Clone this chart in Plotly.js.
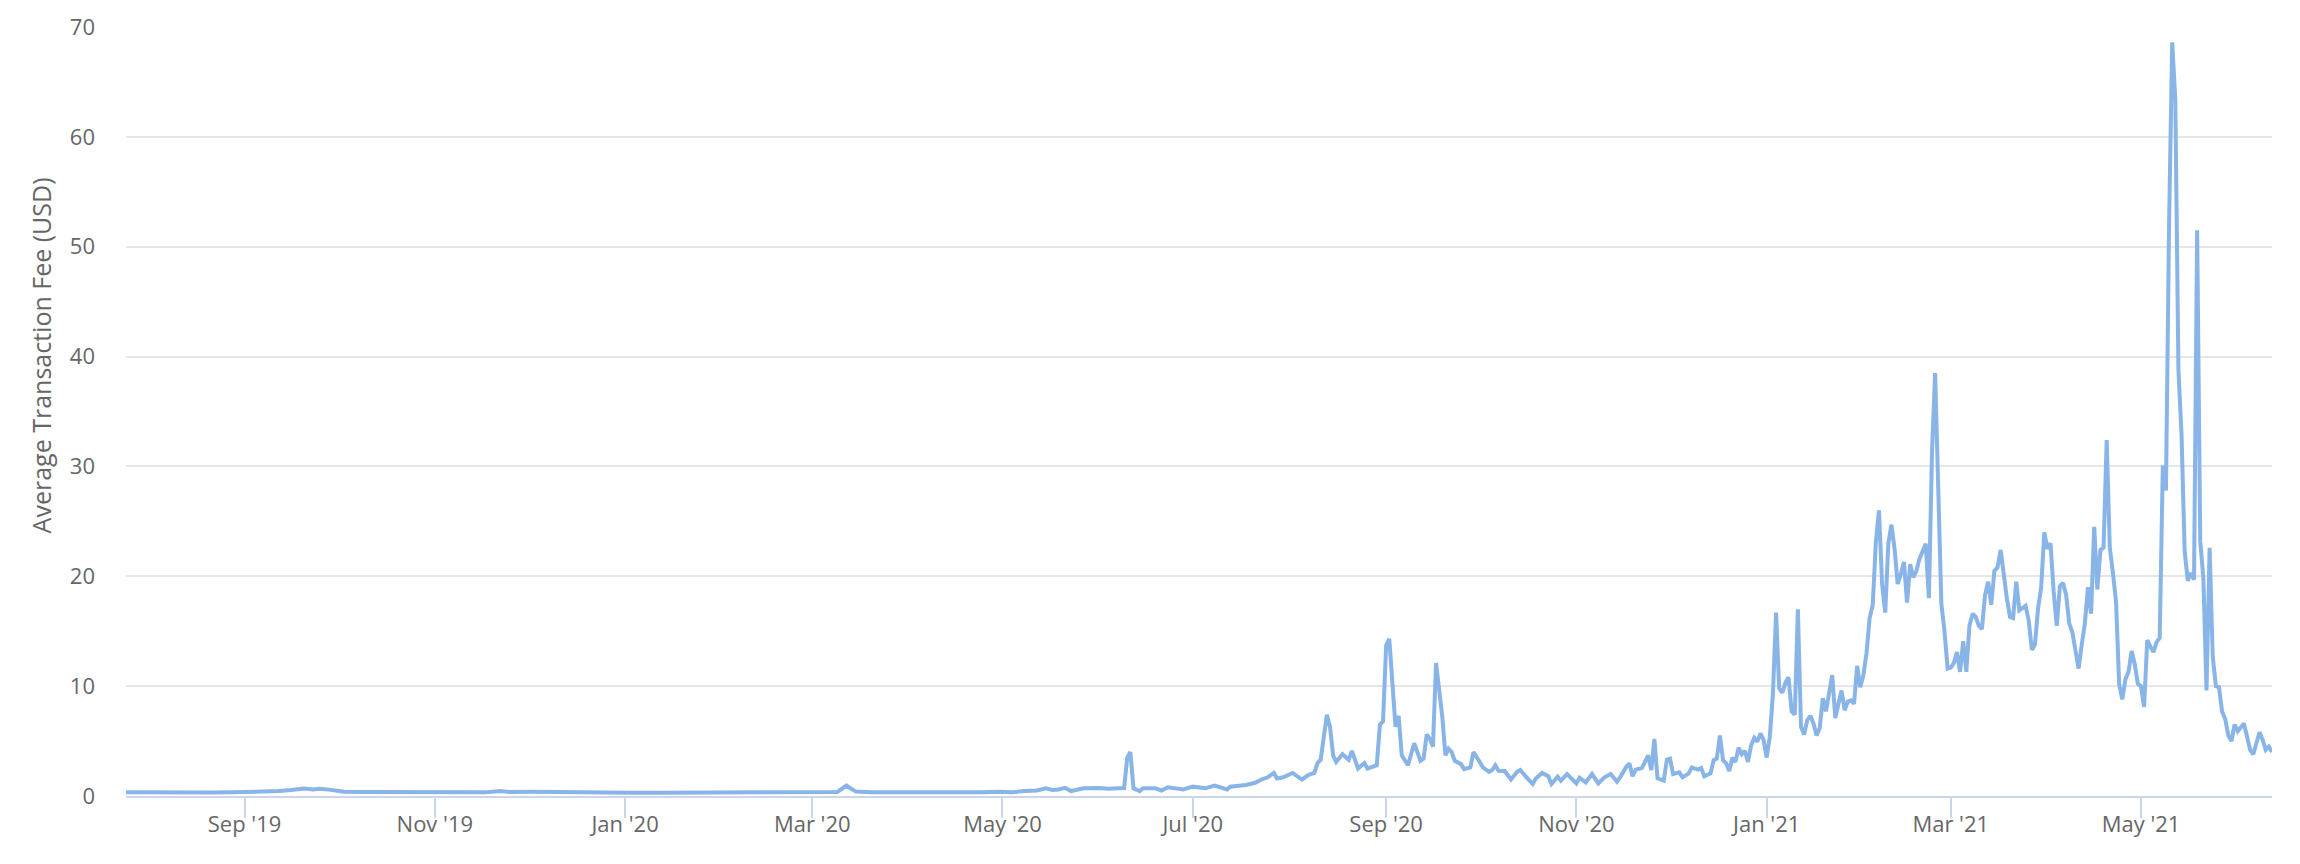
<!DOCTYPE html>
<html>
<head>
<meta charset="utf-8">
<script src="https://cdn.plot.ly/plotly-3.0.1.min.js"></script>
<style>
  body { margin: 0; background: #ffffff; }
  #graphDiv { width: 2300px; height: 864px; }
</style>
</head>
<body>
<div id="graphDiv"></div>
<script>
// html tag
const graphDiv = document.getElementById('graphDiv');

// data **************************************************************
const feeDates = [
  '2019-07-25','2019-07-30','2019-08-04','2019-08-10','2019-08-16','2019-08-22','2019-08-28',
  '2019-09-03','2019-09-08','2019-09-12','2019-09-16','2019-09-20','2019-09-23','2019-09-25',
  '2019-09-28','2019-10-01','2019-10-03','2019-10-10','2019-10-18','2019-10-26','2019-11-03',
  '2019-11-10','2019-11-17','2019-11-22','2019-11-25','2019-12-02','2019-12-10','2019-12-18',
  '2019-12-26','2020-01-03','2020-01-12','2020-01-20','2020-01-28','2020-02-04','2020-02-10',
  '2020-02-16','2020-02-22','2020-02-28','2020-03-05','2020-03-09','2020-03-11','2020-03-12',
  '2020-03-13','2020-03-15','2020-03-20','2020-03-27','2020-04-03','2020-04-10','2020-04-17',
  '2020-04-24','2020-04-30','2020-05-04','2020-05-08','2020-05-12','2020-05-15','2020-05-17',
  '2020-05-19','2020-05-21','2020-05-23','2020-05-27','2020-06-01','2020-06-04','2020-06-07',
  '2020-06-09','2020-06-10','2020-06-11','2020-06-12','2020-06-14','2020-06-15','2020-06-19',
  '2020-06-21','2020-06-23','2020-06-28','2020-07-01','2020-07-05','2020-07-08','2020-07-12',
  '2020-07-13','2020-07-18','2020-07-21','2020-07-23','2020-07-25','2020-07-27','2020-07-28',
  '2020-07-30','2020-08-02','2020-08-05','2020-08-07','2020-08-09','2020-08-10','2020-08-11',
  '2020-08-13','2020-08-14','2020-08-15','2020-08-16','2020-08-18','2020-08-20','2020-08-21',
  '2020-08-23','2020-08-25','2020-08-26','2020-08-29','2020-08-30','2020-08-31','2020-09-01',
  '2020-09-02','2020-09-04','2020-09-05','2020-09-06','2020-09-08','2020-09-10','2020-09-12',
  '2020-09-13','2020-09-14','2020-09-15','2020-09-16','2020-09-17','2020-09-19','2020-09-20',
  '2020-09-21','2020-09-22','2020-09-23','2020-09-25','2020-09-26','2020-09-28','2020-09-29',
  '2020-10-01','2020-10-02','2020-10-04','2020-10-05','2020-10-06','2020-10-07','2020-10-09',
  '2020-10-11','2020-10-13','2020-10-14','2020-10-16','2020-10-18','2020-10-19','2020-10-21',
  '2020-10-23','2020-10-24','2020-10-26','2020-10-27','2020-10-29','2020-11-01','2020-11-02',
  '2020-11-04','2020-11-06','2020-11-08','2020-11-10','2020-11-12','2020-11-14','2020-11-15',
  '2020-11-17','2020-11-18','2020-11-19','2020-11-20','2020-11-22','2020-11-24','2020-11-25',
  '2020-11-26','2020-11-27','2020-11-29','2020-11-30','2020-12-01','2020-12-02','2020-12-04',
  '2020-12-05','2020-12-07','2020-12-08','2020-12-10','2020-12-11','2020-12-12','2020-12-14',
  '2020-12-15','2020-12-16','2020-12-17','2020-12-18','2020-12-19','2020-12-20','2020-12-21',
  '2020-12-22','2020-12-23','2020-12-24','2020-12-25','2020-12-26','2020-12-27','2020-12-28',
  '2020-12-29','2020-12-30','2020-12-31','2021-01-01','2021-01-02','2021-01-03','2021-01-04',
  '2021-01-05','2021-01-06','2021-01-07','2021-01-08','2021-01-09','2021-01-10','2021-01-11',
  '2021-01-12','2021-01-13','2021-01-14','2021-01-15','2021-01-16','2021-01-17','2021-01-18',
  '2021-01-19','2021-01-20','2021-01-22','2021-01-23','2021-01-24','2021-01-25','2021-01-26',
  '2021-01-27','2021-01-28','2021-01-29','2021-01-30','2021-01-31','2021-02-01','2021-02-02',
  '2021-02-03','2021-02-04','2021-02-05','2021-02-06','2021-02-07','2021-02-08','2021-02-09',
  '2021-02-10','2021-02-11','2021-02-12','2021-02-13','2021-02-14','2021-02-15','2021-02-16',
  '2021-02-17','2021-02-18','2021-02-19','2021-02-20','2021-02-21','2021-02-22','2021-02-23',
  '2021-02-24','2021-02-25','2021-02-26','2021-02-27','2021-02-28','2021-03-01','2021-03-02',
  '2021-03-03','2021-03-04','2021-03-05','2021-03-06','2021-03-07','2021-03-08','2021-03-09',
  '2021-03-10','2021-03-11','2021-03-12','2021-03-13','2021-03-14','2021-03-15','2021-03-16',
  '2021-03-17','2021-03-18','2021-03-19','2021-03-20','2021-03-21','2021-03-22','2021-03-23',
  '2021-03-24','2021-03-25','2021-03-26','2021-03-27','2021-03-28','2021-03-29','2021-03-30',
  '2021-03-31','2021-04-01','2021-04-02','2021-04-03','2021-04-04','2021-04-05','2021-04-06',
  '2021-04-07','2021-04-08','2021-04-09','2021-04-10','2021-04-11','2021-04-12','2021-04-13',
  '2021-04-14','2021-04-15','2021-04-16','2021-04-17','2021-04-18','2021-04-19','2021-04-20',
  '2021-04-21','2021-04-22','2021-04-23','2021-04-24','2021-04-25','2021-04-26','2021-04-27',
  '2021-04-28','2021-04-29','2021-04-30','2021-05-01','2021-05-02','2021-05-03','2021-05-04',
  '2021-05-05','2021-05-06','2021-05-07','2021-05-08','2021-05-09','2021-05-10','2021-05-11',
  '2021-05-12','2021-05-13','2021-05-14','2021-05-15','2021-05-16','2021-05-17','2021-05-18',
  '2021-05-19','2021-05-20','2021-05-21','2021-05-22','2021-05-23','2021-05-24','2021-05-25',
  '2021-05-26','2021-05-27','2021-05-28','2021-05-29','2021-05-30','2021-05-31','2021-06-01',
  '2021-06-02','2021-06-03','2021-06-04','2021-06-05','2021-06-06','2021-06-07','2021-06-08',
  '2021-06-09','2021-06-10','2021-06-11','2021-06-12'
];

const feeValues = [
  0.35,0.33,0.36,0.32,0.34,0.31,0.33,
  0.35,0.42,0.45,0.55,0.68,0.60,0.66,
  0.58,0.50,0.38,0.36,0.34,0.35,0.33,
  0.35,0.33,0.45,0.36,0.38,0.34,0.32,
  0.30,0.30,0.29,0.30,0.32,0.34,0.36,
  0.38,0.35,0.34,0.33,0.36,0.75,0.95,
  0.75,0.40,0.33,0.32,0.30,0.30,0.32,
  0.33,0.38,0.34,0.45,0.50,0.70,0.55,
  0.60,0.75,0.45,0.70,0.72,0.65,0.70,
  0.72,3.5,4.0,0.70,0.45,0.70,0.70,
  0.50,0.80,0.60,0.85,0.70,0.95,0.60,
  0.85,1.0,1.2,1.5,1.7,2.1,1.6,
  1.7,2.1,1.5,1.9,2.1,3.0,3.3,
  7.4,6.3,3.7,3.1,3.8,3.3,4.1,
  2.5,3.0,2.5,2.8,6.5,6.8,13.7,
  14.3,6.3,7.3,3.7,2.8,4.8,3.2,
  3.4,5.6,5.2,4.5,12.1,7.2,3.7,
  4.3,4.0,3.2,2.9,2.45,2.6,4.0,
  3.1,2.6,2.2,2.36,2.8,2.3,2.27,
  1.5,2.2,2.36,1.7,1.1,1.6,2.1,
  1.8,1.1,1.76,1.4,2.0,1.15,1.67,
  1.24,2.0,1.15,1.7,2.0,1.3,1.7,
  2.66,2.97,1.8,2.4,2.55,3.7,2.36,
  5.2,1.6,1.4,3.3,3.4,2.0,2.15,
  1.7,2.06,2.6,2.4,2.55,1.8,2.06,
  3.27,3.4,5.5,3.27,2.97,2.27,3.48,
  3.1,4.4,3.8,4.1,3.1,4.6,5.3,
  4.95,5.7,5.1,3.5,5.4,9.3,16.7,
  9.8,9.4,10.3,10.8,7.7,7.4,17.0,
  6.3,5.6,6.9,7.3,6.6,5.5,6.2,
  8.9,7.7,11.0,7.1,8.4,9.6,7.8,
  8.6,8.7,8.4,11.85,9.9,11.0,13.0,
  16.2,17.4,23.1,26.0,19.3,16.7,23.0,
  24.7,22.5,19.3,20.2,21.3,17.6,21.1,
  19.9,20.5,21.6,22.3,22.97,18.0,31.3,
  38.5,29.3,17.5,15.0,11.6,11.7,12.1,
  13.1,11.3,14.1,11.3,15.5,16.6,16.3,
  15.5,15.2,18.3,19.5,17.4,20.5,20.8,
  22.4,19.8,18.0,16.3,16.2,19.5,16.9,
  17.1,17.3,16.0,13.3,13.8,17.06,19.0,
  24.0,22.5,23.0,18.6,15.5,19.1,19.4,
  18.3,15.7,14.9,13.1,11.6,13.8,15.7,
  19.0,16.6,24.5,18.8,22.4,22.6,32.4,
  22.6,20.3,17.7,10.2,8.8,10.6,11.3,
  13.2,12.0,10.2,10.0,8.1,14.2,13.6,
  13.1,14.0,14.4,30.1,27.8,52.0,68.6,
  63.4,38.8,32.9,22.3,19.6,20.3,19.7,
  51.5,23.2,19.8,9.6,22.6,12.7,10.0,
  9.9,7.7,7.0,5.5,5.0,6.5,5.9,
  6.3,6.6,5.4,4.2,3.8,4.7,5.8,
  5.1,4.2,4.5,4.0
];

// x axis labels
const monthTicks = ['2019-09-01','2019-11-01','2020-01-01','2020-03-01','2020-05-01',
  '2020-07-01','2020-09-01','2020-11-01','2021-01-01','2021-03-01','2021-05-01'];
const monthLabels = ["Sep '19","Nov '19","Jan '20","Mar '20","May '20",
  "Jul '20","Sep '20","Nov '20","Jan '21","Mar '21","May '21"];

const yTicks = [0, 10, 20, 30, 40, 50, 60, 70];
const yTitle = 'Average Transaction Fee (USD)';

// plot ****************************************************************
const labelFont = { family: '"Open Sans", "DejaVu Sans", sans-serif', size: 22, color: '#666666' };

Plotly.newPlot(
  graphDiv,
  [
  {
    name: 'fee',
    x: feeDates,
    y: feeValues,
    type: 'scatter',
    mode: 'lines',
    line: { color: '#88b4e8', width: 4 },
    hoverinfo: 'x+y'
  }
  ],
  {
    width: 2300,
    height: 864,
    margin: { l: 126, r: 28, t: 27, b: 68 },
    paper_bgcolor: '#ffffff',
    plot_bgcolor: '#ffffff',
    showlegend: false,
    font: labelFont,
    xaxis: {
      type: 'date',
      range: ['2019-07-25', '2021-06-12'],
      tickvals: monthTicks,
      ticktext: monthLabels,
      showgrid: false,
      zeroline: false,
      showline: true,
      linecolor: '#ccd6eb',
      linewidth: 2,
      ticks: 'outside',
      ticklen: 20,
      tickwidth: 2,
      tickcolor: '#ccd6eb',
      tickfont: labelFont,
      ticklabelstandoff: -12,
      layer: 'below traces'
    },
    yaxis: {
      range: [0, 70],
      tickvals: yTicks,
      showgrid: true,
      gridcolor: '#e6e6e6',
      gridwidth: 2,
      zeroline: false,
      showline: false,
      ticks: '',
      tickfont: labelFont,
      ticklabelstandoff: 30,
      layer: 'below traces'
    },
    annotations: [
    {
      text: yTitle,
      xref: 'paper', yref: 'paper',
      x: -0.0396, y: 0.573,
      xanchor: 'center', yanchor: 'middle',
      textangle: -90,
      showarrow: false,
      font: { family: '"Open Sans", "DejaVu Sans", sans-serif', size: 25, color: '#666666' }
    }
    ]
  },
  { displayModeBar: false, staticPlot: true }
);
</script>
</body>
</html>
